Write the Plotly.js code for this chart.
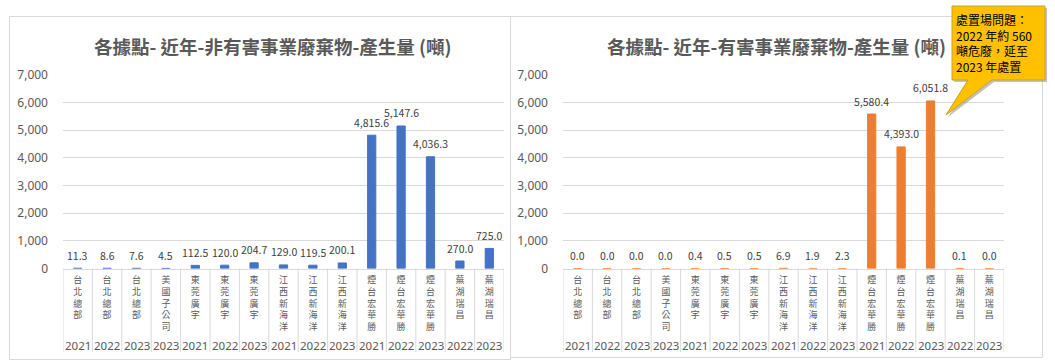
<!DOCTYPE html>
<html>
<head>
<meta charset="utf-8">
<script src="https://cdn.plot.ly/plotly-3.0.1.min.js"></script>
<style>html,body{margin:0;padding:0;background:#fff;}#chart{width:1055px;height:362px;}</style>
</head>
<body>
<div id="chart"></div>
<script>
// ---- data ----
const sites = ['台北總部','台北總部','台北總部','美國子公司','東莞廣宇','東莞廣宇','東莞廣宇','江西新海洋','江西新海洋','江西新海洋','煙台宏華勝','煙台宏華勝','煙台宏華勝','蕪湖瑞昌','蕪湖瑞昌'];
const years = ['2021','2022','2023','2023','2021','2022','2023','2021','2022','2023','2021','2022','2023','2022','2023'];
const nonHazardous = [11.3, 8.6, 7.6, 4.5, 112.5, 120.0, 204.7, 129.0, 119.5, 200.1, 4815.6, 5147.6, 4036.3, 270.0, 725.0];
const hazardous = [0.0, 0.0, 0.0, 0.0, 0.4, 0.5, 0.5, 6.9, 1.9, 2.3, 5580.4, 4393.0, 6051.8, 0.1, 0.0];
const titleLeft = '各據點- 近年-非有害事業廢棄物-產生量 (噸)';
const titleRight = '各據點- 近年-有害事業廢棄物-產生量 (噸)';
const calloutLines = ['處置場問題：', '2022 年約 560', '噸危廢，延至', '2023 年處置'];

// ---- helpers ----
const W = 1055, H = 362;
const px = v => v / W;
const py = v => 1 - v / H;
const cats = sites.map((s, i) => s + ' ' + years[i]);
const tickText = sites.map(s => s.split('').join('<br>'));
const fmt = v => v.toLocaleString('en-US', {minimumFractionDigits: 1, maximumFractionDigits: 1});
const CJK = "'Noto Sans CJK TC', 'Noto Sans', sans-serif";
const LAT = "'Noto Sans', 'Noto Sans CJK TC', sans-serif";
const GRID = '#d9d9d9';
const TXT = '#595959';

const yTop = 74.7, yBot = 268.5;
const leftDom = [px(63), px(504)];
const rightDom = [px(563), px(1004)];
const yDom = [py(yBot), py(yTop)];

const traces = [
  {type: 'bar', x: cats, y: nonHazardous, xaxis: 'x', yaxis: 'y',
   marker: {color: '#4472C4', line: {color: '#4472C4', width: 1}}, hoverinfo: 'x+y'},
  {type: 'bar', x: cats, y: hazardous, xaxis: 'x2', yaxis: 'y2',
   marker: {color: '#ED7D31', line: {color: '#ED7D31', width: 1}}, hoverinfo: 'x+y'}
];

function xAxis(dom, anchor) {
  return {
    domain: dom, anchor: anchor, type: 'category', categoryarray: cats, categoryorder: 'array',
    range: [-0.5, cats.length - 0.5], showgrid: false, zeroline: false,
    showline: true, linecolor: GRID, linewidth: 1, ticks: '',
    tickvals: cats, ticktext: tickText, tickangle: 0,
    tickfont: {family: CJK, size: 9, color: TXT}, ticklabelstandoff: 3, fixedrange: true
  };
}
function yAxis(anchor) {
  return {
    domain: yDom, anchor: anchor, range: [0, 7000], dtick: 1000, tick0: 0,
    tickformat: ',d', showgrid: true, gridcolor: GRID, gridwidth: 1,
    zeroline: false, showline: false, ticks: '', ticklabelstandoff: 14,
    tickfont: {family: LAT, size: 12, color: TXT}, fixedrange: true
  };
}

const annotations = [];
const shapes = [];

// titles
annotations.push({xref: 'paper', yref: 'paper', x: px(272), y: py(46), xanchor: 'center', yanchor: 'middle',
  text: titleLeft, showarrow: false, font: {family: CJK, size: 18.5, color: TXT, weight: 'bold'}});
annotations.push({xref: 'paper', yref: 'paper', x: px(776), y: py(46), xanchor: 'center', yanchor: 'middle',
  text: titleRight, showarrow: false, font: {family: CJK, size: 18.5, color: TXT, weight: 'bold'}});

// data labels, year labels, dividers
[['x', 'y', nonHazardous], ['x2', 'y2', hazardous]].forEach(([xa, ya, vals]) => {
  vals.forEach((v, i) => {
    annotations.push({xref: xa, yref: ya, x: cats[i], y: v, text: fmt(v), showarrow: false,
      yanchor: 'middle', yshift: 13, font: {family: CJK, size: 10.5, color: '#404040'}});
    annotations.push({xref: xa, yref: 'paper', x: cats[i], y: py(345), text: years[i], showarrow: false,
      yanchor: 'middle', font: {family: LAT, size: 11.5, color: TXT}});
  });
  for (let i = 0; i <= vals.length; i++) {
    shapes.push({type: 'line', xref: xa, yref: 'paper', x0: i - 0.5, x1: i - 0.5,
      y0: py(yBot), y1: py(352), line: {color: GRID, width: 1}});
  }
});

// chart frames
shapes.push({type: 'rect', xref: 'paper', yref: 'paper', x0: px(9.5), x1: px(510.5), y0: py(359.5), y1: py(16.5),
  line: {color: GRID, width: 1}, fillcolor: 'rgba(0,0,0,0)', layer: 'below'});
shapes.push({type: 'rect', xref: 'paper', yref: 'paper', x0: px(510.5), x1: px(1042.5), y0: py(357.5), y1: py(16.5),
  line: {color: GRID, width: 1}, fillcolor: 'rgba(0,0,0,0)', layer: 'below'});

// callout (shadow + box + pointer)
function calloutPath(dx, dy) {
  const pts = [[952, 6], [1045, 6], [1045, 80], [992, 80], [946, 115], [968, 80], [952, 80]];
  return 'M ' + pts.map(p => px(p[0] + dx) + ',' + py(p[1] + dy)).join(' L ') + ' Z';
}
shapes.push({type: 'path', xref: 'paper', yref: 'paper', path: calloutPath(2, 2),
  fillcolor: 'rgba(120,120,120,0.45)', line: {width: 0}, layer: 'above'});
shapes.push({type: 'path', xref: 'paper', yref: 'paper', path: calloutPath(0, 0),
  fillcolor: '#FFC000', line: {color: '#C9A227', width: 1}, layer: 'above'});
annotations.push({xref: 'paper', yref: 'paper', x: px(954), y: py(9), xanchor: 'left', yanchor: 'top', align: 'left',
  text: calloutLines.join('<br>'), showarrow: false, font: {family: CJK, size: 12, color: '#000'}});

const layout = {
  width: W, height: H, margin: {l: 0, r: 0, t: 0, b: 0},
  paper_bgcolor: '#fff', plot_bgcolor: '#fff', showlegend: false, bargap: 0.72,
  xaxis: xAxis(leftDom, 'y'), yaxis: yAxis('x'),
  xaxis2: xAxis(rightDom, 'y2'), yaxis2: yAxis('x2'),
  annotations: annotations, shapes: shapes
};
Plotly.newPlot('chart', traces, layout, {displayModeBar: false, staticPlot: true});
</script>
</body>
</html>
